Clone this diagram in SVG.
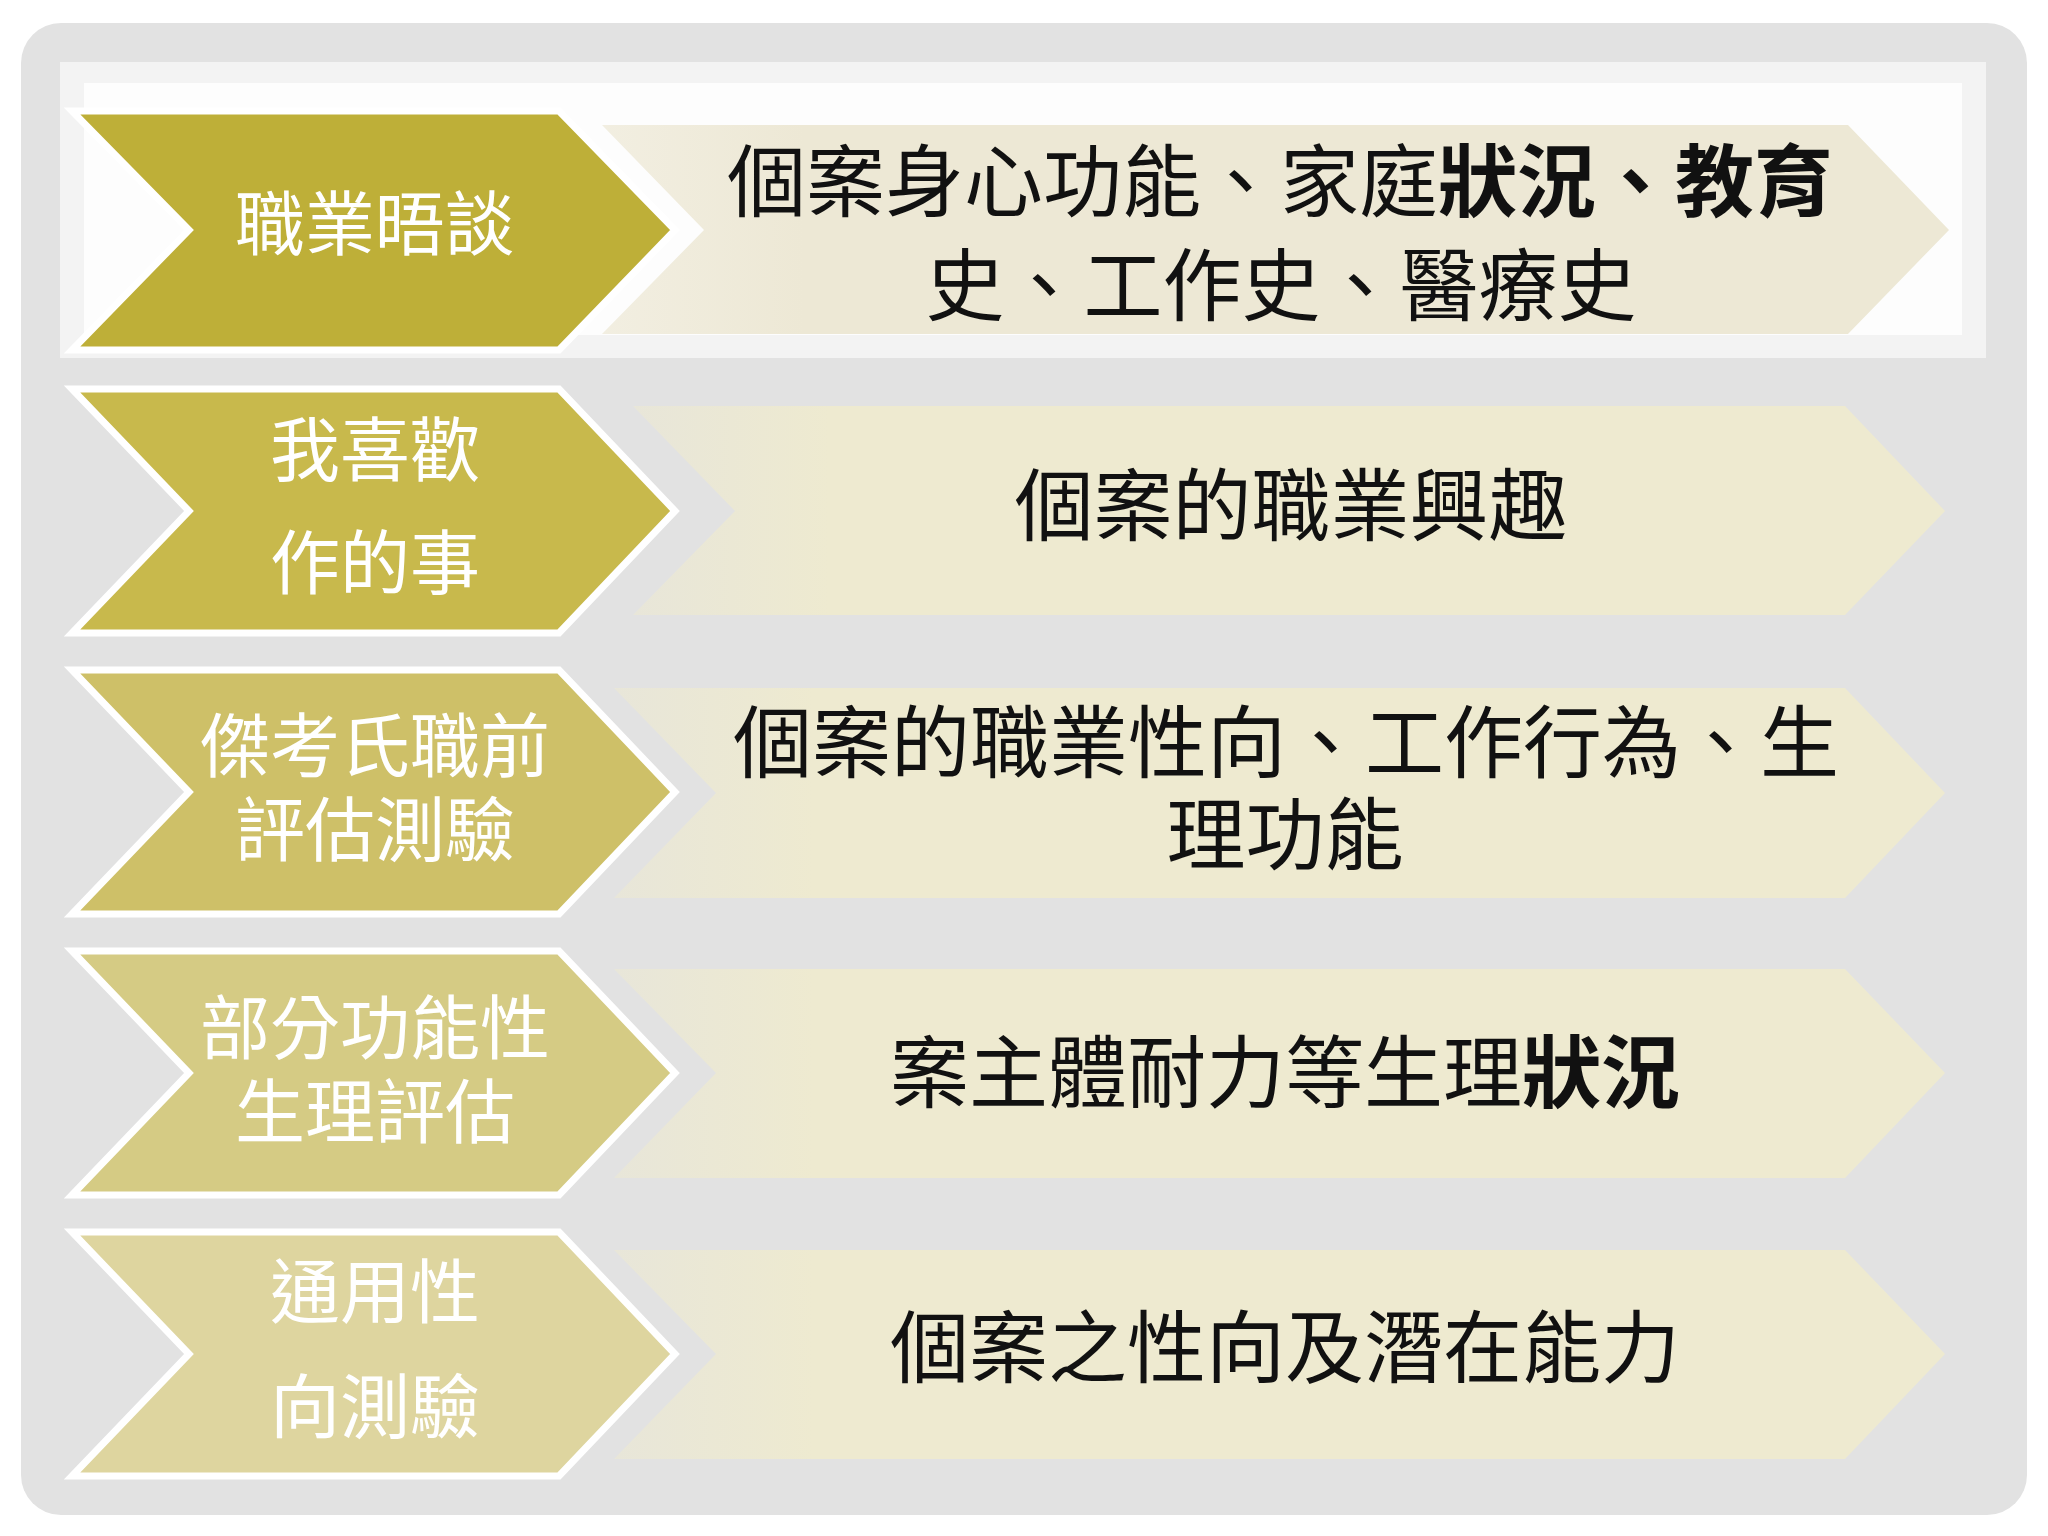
<svg xmlns="http://www.w3.org/2000/svg" width="2048" height="1536" viewBox="0 0 2048 1536">
<defs>
<style>
.lt{font-family:"Noto Sans CJK TC","Noto Sans CJK SC",sans-serif;font-size:70px;fill:#ffffff;text-anchor:middle}
.rt{font-family:"Noto Sans CJK TC","Noto Sans CJK SC",sans-serif;font-size:79px;fill:#111111;text-anchor:middle}
.b{font-weight:700}
.chev{stroke:#ffffff;stroke-width:7;stroke-linejoin:miter}
</style>
<linearGradient id="fade1" x1="0" y1="0" x2="1" y2="0">
<stop offset="0" stop-color="#EDE8D5" stop-opacity="0.7"/>
<stop offset="0.15" stop-color="#EDE8D5" stop-opacity="1"/>
<stop offset="1" stop-color="#EDE8D5" stop-opacity="1"/>
</linearGradient>
<linearGradient id="fade2" x1="0" y1="0" x2="1" y2="0">
<stop offset="0" stop-color="#EEEAD0" stop-opacity="0.5"/>
<stop offset="0.15" stop-color="#EEEAD0" stop-opacity="1"/>
<stop offset="1" stop-color="#EEEAD0" stop-opacity="1"/>
</linearGradient>
</defs>
<rect x="0" y="0" width="2048" height="1536" fill="#ffffff"/>
<rect x="21" y="23" width="2006" height="1492" rx="40" ry="40" fill="#E2E2E2"/>
<rect x="60" y="62" width="1926" height="296" fill="#F3F3F3"/>
<rect x="84" y="83" width="1878" height="252" fill="#FDFDFD"/>

<g id="row1">
<polygon points="602,125 1848,125 1949,230 1848,334 602,334 704,230" fill="url(#fade1)"/>
<polygon class="chev" points="72,111 559,111 675,230 559,350 72,350 189,230" fill="#BEAF38"/>
<text class="lt" x="375" y="250">職業晤談</text>
<text class="rt" x="1280" y="211">個案身心功能、家庭<tspan class="b">狀況、教育</tspan></text>
<text class="rt" x="1281" y="315">史、工作史、醫療史</text>
</g>

<g id="row2">
<polygon points="633,406 1845,406 1945,511 1845,615 633,615 735,511" fill="url(#fade2)"/>
<polygon class="chev" points="72,389 559,389 675,511 559,633 72,633 189,511" fill="#C8B94C"/>
<text class="lt" x="375" y="476">我喜歡</text>
<text class="lt" x="375" y="589">作的事</text>
<text class="rt" x="1291" y="535">個案的職業興趣</text>
</g>

<g id="row3">
<polygon points="614,688 1845,688 1945,793 1845,898 614,898 716,793" fill="url(#fade2)"/>
<polygon class="chev" points="72,670 559,670 675,792 559,914 72,914 189,792" fill="#CEC068"/>
<text class="lt" x="375" y="772">傑考氏職前</text>
<text class="lt" x="375" y="856">評估測驗</text>
<text class="rt" x="1286" y="772">個案的職業性向、工作行為、生</text>
<text class="rt" x="1285" y="864">理功能</text>
</g>

<g id="row4">
<polygon points="614,969 1845,969 1945,1073 1845,1178 614,1178 716,1073" fill="url(#fade2)"/>
<polygon class="chev" points="72,951 559,951 675,1073 559,1195 72,1195 189,1073" fill="#D5CB84"/>
<text class="lt" x="375" y="1054">部分功能性</text>
<text class="lt" x="375" y="1138">生理評估</text>
<text class="rt" x="1285" y="1102">案主體耐力等生理<tspan class="b">狀況</tspan></text>
</g>

<g id="row5">
<polygon points="614,1250 1845,1250 1945,1354 1845,1459 614,1459 716,1354" fill="url(#fade2)"/>
<polygon class="chev" points="72,1232 559,1232 675,1354 559,1476 72,1476 189,1354" fill="#DED59F"/>
<text class="lt" x="375" y="1318">通用性</text>
<text class="lt" x="375" y="1433">向測驗</text>
<text class="rt" x="1285" y="1377">個案之性向及潛在能力</text>
</g>

<g id="connectors"></g>
</svg>
